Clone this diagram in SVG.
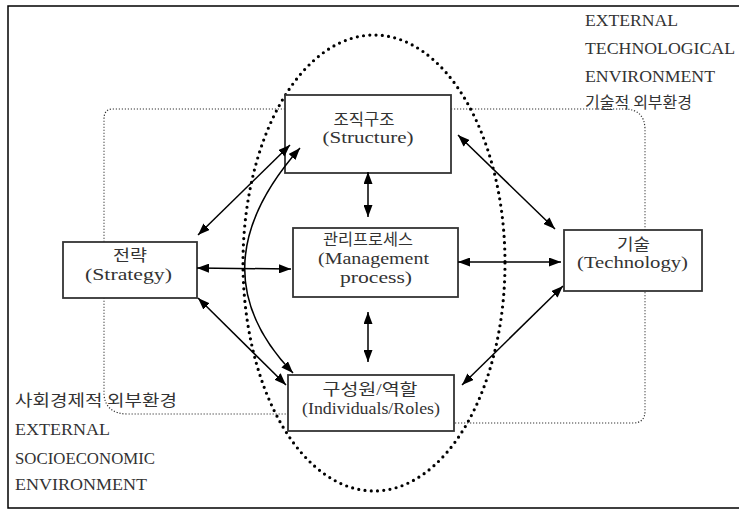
<svg xmlns="http://www.w3.org/2000/svg" width="739" height="513" viewBox="0 0 739 513">
<defs>
<marker id="ah" viewBox="0 0 12 9" refX="12" refY="4.5" markerWidth="12" markerHeight="9" markerUnits="userSpaceOnUse" orient="auto-start-reverse">
<path d="M0,0 L12,4.5 L0,9 z" fill="#000"/>
</marker>
</defs>
<style>
text { font-family: "Liberation Serif", "Noto Sans CJK KR", serif; font-size: 16px; fill: #333; }
.box { fill: #fff; stroke: #333; stroke-width: 1.8; }
.env { fill: none; stroke: #333; stroke-width: 1.2; stroke-dasharray: 1.2 1.8; }
.oval { fill: none; stroke: #000; stroke-width: 3.2; stroke-linecap: round; stroke-dasharray: 0 6.3; }
.arr { fill: none; stroke: #000; stroke-width: 1.5; marker-start: url(#ah); marker-end: url(#ah); }
.frame { fill: none; stroke: #000; stroke-width: 1.5; }
</style>
<rect width="739" height="513" fill="#fff"/>
<g id="frame">
<path class="frame" d="M739,6 H8 V508 H739"/>
</g>
<g id="environment">
<path class="env" d="M288,109 H113 Q104,109 104,119 V395 Q106,414 128,414 H290"/>
<path class="env" d="M451,109 H624 Q645,109 645,130 V411 Q645,423 633,423 H454"/>
<ellipse class="oval" cx="374" cy="263" rx="131" ry="228"/>
</g>
<g id="labels">
<text x="585" y="26" textLength="93" lengthAdjust="spacingAndGlyphs">EXTERNAL</text>
<text x="585" y="54" textLength="150" lengthAdjust="spacingAndGlyphs">TECHNOLOGICAL</text>
<text x="585" y="82" textLength="130" lengthAdjust="spacingAndGlyphs">ENVIRONMENT</text>
<text x="585" y="108" textLength="107" lengthAdjust="spacingAndGlyphs">기술적 외부환경</text>
<text x="15" y="406" textLength="162" lengthAdjust="spacingAndGlyphs">사회경제적 외부환경</text>
<text x="15" y="435" textLength="95" lengthAdjust="spacingAndGlyphs">EXTERNAL</text>
<text x="15" y="464" textLength="140" lengthAdjust="spacingAndGlyphs">SOCIOECONOMIC</text>
<text x="15" y="490" textLength="132" lengthAdjust="spacingAndGlyphs">ENVIRONMENT</text>
</g>
<g id="structure">
<rect class="box" x="285" y="95" width="166" height="78"/>
<text x="364" y="125" text-anchor="middle" textLength="61" lengthAdjust="spacingAndGlyphs">조직구조</text>
<text x="368" y="143" text-anchor="middle" textLength="91" lengthAdjust="spacingAndGlyphs">(Structure)</text>
</g>
<g id="management">
<rect class="box" x="293" y="228" width="165" height="69"/>
<text x="368" y="245" text-anchor="middle" textLength="90" lengthAdjust="spacingAndGlyphs">관리프로세스</text>
<text x="373.5" y="264" text-anchor="middle" textLength="111" lengthAdjust="spacingAndGlyphs">(Management</text>
<text x="376" y="283" text-anchor="middle" textLength="72" lengthAdjust="spacingAndGlyphs">process)</text>
</g>
<g id="strategy">
<rect class="box" x="63" y="242" width="134" height="56"/>
<text x="130" y="261" text-anchor="middle" textLength="34" lengthAdjust="spacingAndGlyphs">전략</text>
<text x="128.5" y="280" text-anchor="middle" textLength="87" lengthAdjust="spacingAndGlyphs">(Strategy)</text>
</g>
<g id="technology">
<rect class="box" x="564" y="230" width="138" height="61"/>
<text x="633.5" y="250" text-anchor="middle" textLength="33" lengthAdjust="spacingAndGlyphs">기술</text>
<text x="632.5" y="268" text-anchor="middle" textLength="111" lengthAdjust="spacingAndGlyphs">(Technology)</text>
</g>
<g id="individuals">
<rect class="box" x="288" y="375" width="166" height="56"/>
<text x="370" y="395" text-anchor="middle" textLength="95" lengthAdjust="spacingAndGlyphs">구성원/역할</text>
<text x="371" y="414" text-anchor="middle" textLength="138" lengthAdjust="spacingAndGlyphs">(Individuals/Roles)</text>
</g>
<g id="connectors">
<path class="arr" d="M198,235 L290,145"/>
<path class="arr" d="M300,148 Q193,269 293,373"/>
<path class="arr" d="M197,268 L291,269"/>
<path class="arr" d="M198,298 L286,385"/>
<path class="arr" d="M368,172 L368,217"/>
<path class="arr" d="M368,312 L368,362"/>
<path class="arr" d="M458,135 L555,229"/>
<path class="arr" d="M458,262 L561,262"/>
<path class="arr" d="M462,385 L563,286"/>
</g>
</svg>
